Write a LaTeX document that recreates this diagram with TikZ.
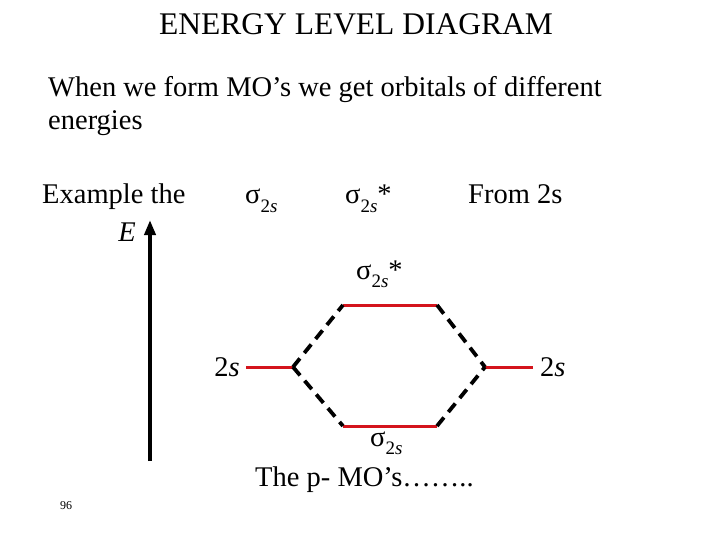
\documentclass[tikz,border=0pt]{standalone}
\usepackage{fontspec}
\setmainfont{Liberation Serif}
\usetikzlibrary{positioning, arrows.meta}
\definecolor{levelRed}{HTML}{D4141C}
\newcommand{\orbsub}[1]{\raisebox{-0.3em}{\fontsize{19}{20}\selectfont #1}}

\begin{document}
\begin{tikzpicture}[
  x=1pt, y=-1pt,
  txt/.style={
    inner sep=0pt,
    font=\fontsize{28.5}{32}\selectfont
  },
  level/.style={
    draw=levelRed,
    line width=3pt
  },
  link/.style={
    draw=black,
    line width=3.8pt,
    dash pattern=on 11pt off 7pt
  },
  axis/.style={
    -{Triangle[length=15pt, width=11pt]},
    line width=3.8pt
  }
]
\useasboundingbox (0,0) rectangle (720,540);

% titles and text
\node[txt, font=\fontsize{31.5}{34}\selectfont, anchor=base] (title) at (356,35) {ENERGY LEVEL DIAGRAM};
\node[txt, anchor=base west] (intro) at (48,97) {When we form MO’s we get orbitals of different};
\node[txt, anchor=base west] (intro2) at (48,130) {energies};
\node[txt, anchor=base west] (example) at (42,204) {Example the};
\node[txt, anchor=base] (ener) at (127,241) {\itshape E};
\node[txt, anchor=base west] (sigb) at (245,204) {σ\orbsub{2\itshape s}};
\node[txt, anchor=base west] (siga) at (345,204) {σ\orbsub{2\itshape s}*};
\node[txt, anchor=base west] (from) at (468,204) {From 2s};

% energy axis
\coordinate (axbot) at (150,461);
\coordinate (axtop) at (150,220);
\draw[axis] (axbot) -- (axtop);

% orbital levels
\coordinate (al) at (246,367);
\coordinate (ar) at (293,367);
\coordinate (bl) at (485,367);
\coordinate (br) at (533,367);
\coordinate (tl) at (343,305);
\coordinate (tr) at (437,305);
\coordinate (dl) at (343,426);
\coordinate (dr) at (437,426);

\draw[level] (al) -- (ar);
\draw[level] (bl) -- (br);
\draw[level] (tl) -- (tr);
\draw[level] (dl) -- (dr);

\draw[link] (ar) -- (tl);
\draw[link] (ar) -- (dl);
\draw[link] (tr) -- (bl);
\draw[link] (dr) -- (bl);

% level labels
\node[txt, anchor=base east] (lab2sl) at (240,376) {2\itshape s};
\node[txt, anchor=base west] (lab2sr) at (540,376) {2\itshape s};
\node[txt, anchor=base west] (labtop) at (356,279) {σ\orbsub{2\itshape s}*};
\node[txt, anchor=base west] (labbot) at (370,446) {σ\orbsub{2\itshape s}};
\node[txt, anchor=base west] (pmo) at (255,486) {The p- MO’s……..};
\node[inner sep=0pt, font=\fontsize{12}{14}\selectfont, anchor=base] (page) at (66,509) {96};
\end{tikzpicture}
\end{document}
